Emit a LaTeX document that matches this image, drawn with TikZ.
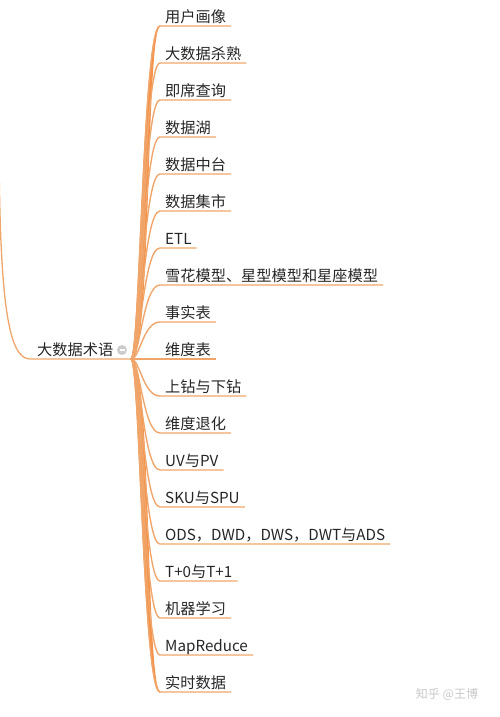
\documentclass[tikz,border=0pt]{standalone}
\usepackage{fontspec}
\newfontfamily\cjk{Noto Sans CJK SC}
\usetikzlibrary{positioning}
\definecolor{trunkc}{HTML}{F4924A}
\definecolor{branchc}{HTML}{F0A66A}
\definecolor{txt}{HTML}{262626}
\definecolor{wmgray}{HTML}{C8C8C8}
\tikzset{
  leaf/.style = {anchor=south west, inner xsep=5pt, inner ysep=0pt, text depth=3pt, text=txt, font=\cjk\fontsize{15.2}{18}\selectfont},
  branch/.style = {draw=branchc, line width=1.4pt},
  trunk/.style = {fill=trunkc, draw=trunkc, line width=1.3pt, line join=round},
  rootline/.style = {draw=branchc, line width=1.3pt}
}

\begin{document}
\begin{tikzpicture}[x=1pt, y=-1pt]
\useasboundingbox (0,0) rectangle (500,717);

% Root topic and its parent line
\coordinate (parent) at (-1,150);
\coordinate (hub) at (131,359);
\node[leaf, inner xsep=7pt] (root) at (30,359) {大数据术语};
\draw[rootline] (parent) .. controls (0,300) and (8,359) .. (root.south west) -- (hub);
\node[circle, fill=black!20, inner sep=0pt, minimum size=10pt] (fold) at (122,350) {};
\draw[white, line width=1.2pt] ([xshift=-2.5pt]fold.center) -- ([xshift=2.5pt]fold.center);

% Subtopics (top -> bottom)
\node[leaf] (n1)  at (160,26)  {用户画像};
\node[leaf] (n2)  at (160,63)  {大数据杀熟};
\node[leaf] (n3)  at (160,100) {即席查询};
\node[leaf] (n4)  at (160,137) {数据湖};
\node[leaf] (n5)  at (160,174) {数据中台};
\node[leaf] (n6)  at (160,211) {数据集市};
\node[leaf] (n7)  at (160,248) {ETL};
\node[leaf] (n8)  at (160,285) {雪花模型、星型模型和星座模型};
\node[leaf] (n9)  at (160,322) {事实表};
\node[leaf] (n10) at (160,359) {维度表};
\node[leaf] (n11) at (160,396) {上钻与下钻};
\node[leaf] (n12) at (160,433) {维度退化};
\node[leaf] (n13) at (160,470) {UV与PV};
\node[leaf] (n14) at (160,507) {SKU与SPU};
\node[leaf] (n15) at (160,544) {ODS，DWD，DWS，DWT与ADS};
\node[leaf] (n16) at (160,581) {T+0与T+1};
\node[leaf] (n17) at (160,618) {机器学习};
\node[leaf] (n18) at (160,655) {MapReduce};
\node[leaf] (n19) at (160,692) {实时数据};

% Trunk (upper and lower half)
\fill[trunk] (hub) .. controls (140,359) and (143,26) .. (n1.south west) .. controls (145,26) and (151,359) .. (hub);
\fill[trunk] (hub) .. controls (140,359) and (143,692) .. (n19.south west) .. controls (145,692) and (151,359) .. (hub);

% Branches with underlines
\draw[branch] (hub) .. controls (140,359) and (143,26)  .. (n1.south west)  -- (n1.south east);
\draw[branch] (hub) .. controls (140,359) and (143,63)  .. (n2.south west)  -- (n2.south east);
\draw[branch] (hub) .. controls (140,359) and (143,100) .. (n3.south west)  -- (n3.south east);
\draw[branch] (hub) .. controls (140,359) and (143,137) .. (n4.south west)  -- (n4.south east);
\draw[branch] (hub) .. controls (140,359) and (143,174) .. (n5.south west)  -- (n5.south east);
\draw[branch] (hub) .. controls (140,359) and (143,211) .. (n6.south west)  -- (n6.south east);
\draw[branch] (hub) .. controls (140,359) and (143,248) .. (n7.south west)  -- (n7.south east);
\draw[branch] (hub) .. controls (140,359) and (143,285) .. (n8.south west)  -- (n8.south east);
\draw[branch] (hub) .. controls (140,359) and (143,322) .. (n9.south west)  -- (n9.south east);
\draw[branch] (hub) -- (n10.south west) -- (n10.south east);
\draw[branch] (hub) .. controls (140,359) and (143,396) .. (n11.south west) -- (n11.south east);
\draw[branch] (hub) .. controls (140,359) and (143,433) .. (n12.south west) -- (n12.south east);
\draw[branch] (hub) .. controls (140,359) and (143,470) .. (n13.south west) -- (n13.south east);
\draw[branch] (hub) .. controls (140,359) and (143,507) .. (n14.south west) -- (n14.south east);
\draw[branch] (hub) .. controls (140,359) and (143,544) .. (n15.south west) -- (n15.south east);
\draw[branch] (hub) .. controls (140,359) and (143,581) .. (n16.south west) -- (n16.south east);
\draw[branch] (hub) .. controls (140,359) and (143,618) .. (n17.south west) -- (n17.south east);
\draw[branch] (hub) .. controls (140,359) and (143,655) .. (n18.south west) -- (n18.south east);
\draw[branch] (hub) .. controls (140,359) and (143,692) .. (n19.south west) -- (n19.south east);

% Watermark
\node[text=wmgray, font=\cjk\fontsize{12}{14}\selectfont] (wm) at (447,694) {知乎 @王博};

\end{tikzpicture}
\end{document}
